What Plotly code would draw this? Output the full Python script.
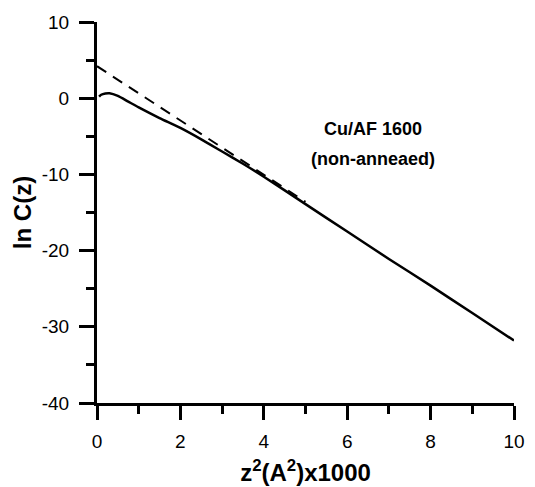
import plotly.graph_objects as go

# Measured curve ln C(z) vs z^2 (A^2) x1000
z2_meas = [0.05, 0.1, 0.2, 0.3, 0.5, 0.75, 1.0, 1.5, 2.0, 2.5, 3.0, 3.5, 4.0, 5.0, 6.0, 7.0, 8.0, 9.0, 10.0]
lnC_meas = [0.2, 0.45, 0.62, 0.65, 0.3, -0.45, -1.2, -2.6, -3.9, -5.4, -7.0, -8.6, -10.3, -13.9, -17.5, -21.1, -24.6, -28.2, -31.8]

# Linear (dashed) fit
z2_fit = [0.0, 5.0]
lnC_fit = [4.2, -13.6]

xticks = [0, 2, 4, 6, 8, 10]
yticks = [10, 0, -10, -20, -30, -40]

FONT = "Arial, Liberation Sans, sans-serif"

fig = go.Figure()
fig.add_trace(go.Scatter(x=z2_fit, y=lnC_fit, mode="lines",
                         line=dict(color="black", width=2, dash="11px,8px"),
                         showlegend=False, hoverinfo="skip"))
fig.add_trace(go.Scatter(x=z2_meas, y=lnC_meas, mode="lines",
                         line=dict(color="black", width=2.5, shape="spline", smoothing=0.6),
                         showlegend=False))

fig.add_annotation(x=6.62, y=-4.0, xref="x", yref="y", text="<b>Cu/AF 1600</b>",
                   showarrow=False, font=dict(family=FONT, size=18, color="black"))
fig.add_annotation(x=6.62, y=-8.0, xref="x", yref="y", text="<b>(non-anneaed)</b>",
                   showarrow=False, font=dict(family=FONT, size=18, color="black"))

# page body has an 8px default margin; figure sized to fit the 535x487 window
fig.update_layout(
    width=527, height=479,
    margin=dict(l=89, r=21, t=14, b=84),
    paper_bgcolor="white", plot_bgcolor="white",
    font=dict(family=FONT, size=19, color="black"),
    xaxis=dict(range=[0, 10], tickvals=xticks, ticktext=[str(v) for v in xticks],
               automargin=False,
               showline=True, linecolor="black", linewidth=3, mirror=False,
               ticks="outside", ticklen=14, tickwidth=3, tickcolor="black",
               ticklabelstandoff=5,
               minor=dict(ticks="outside", ticklen=8, tickwidth=3, tickcolor="black", dtick=1, tick0=0, showgrid=False),
               showgrid=False, zeroline=False,
               title=dict(text="<b>z<sup>2</sup>(A<sup>2</sup>)x1000</b>", font=dict(family=FONT, size=24), standoff=14)),
    yaxis=dict(range=[-40, 10], tickvals=yticks, ticktext=[str(v) for v in yticks],
               automargin=False,
               showline=True, linecolor="black", linewidth=3, mirror=False,
               ticks="outside", ticklen=15, tickwidth=3, tickcolor="black",
               ticklabelstandoff=6,
               minor=dict(ticks="outside", ticklen=8, tickwidth=3, tickcolor="black", dtick=5, tick0=0, showgrid=False),
               showgrid=False, zeroline=False,
               title=dict(text="<b>ln C(z)</b>", font=dict(family=FONT, size=24), standoff=4)),
)

fig.write_html("out.html")
